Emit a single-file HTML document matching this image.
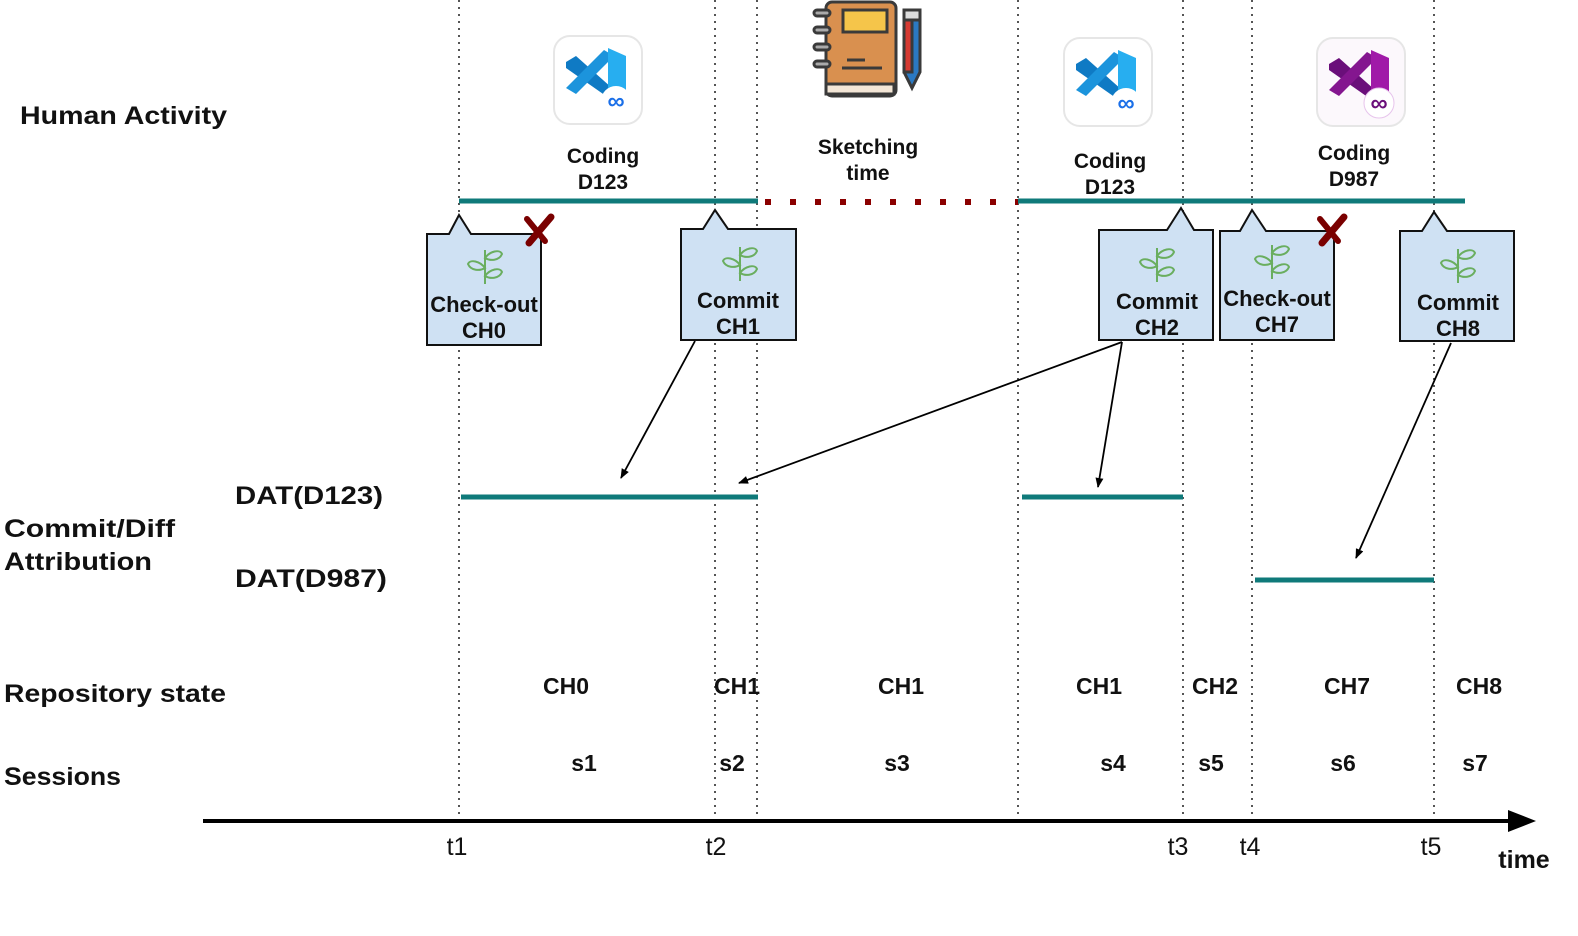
<!DOCTYPE html>
<html><head><meta charset="utf-8"><style>
html,body{margin:0;padding:0;background:#fff;overflow:hidden;width:1578px;height:936px;}
svg{display:block;font-family:"Liberation Sans",sans-serif;}
.b{font-weight:bold;fill:#111;}
</style></head><body>
<svg width="1578" height="936" viewBox="0 0 1578 936" xmlns="http://www.w3.org/2000/svg">
<defs>
<marker id="ah" markerWidth="10" markerHeight="10" refX="9" refY="5" orient="auto" markerUnits="userSpaceOnUse"><path d="M0,1 L10,5 L0,9 Z" fill="#000"/></marker>
<g id="sprout" fill="none" stroke="#6aae5f" stroke-width="2">
<path d="M0,38 L0,4"/>
<path d="M0,22 C-5,15 -15,13 -17,18 C-14,25 -5,25 0,22 Z"/>
<path d="M0,12 C5,5 15,3 17,8 C14,15 5,15 0,12 Z"/>
<path d="M0,30 C5,23 15,21 17,26 C14,33 5,33 0,30 Z"/>
</g>
<g id="xmark"><path d="M-8,14 L14,-12" stroke="#7a0000" stroke-width="7" stroke-linecap="round"/><path d="M-10,-10 L8,12" stroke="#7a0000" stroke-width="6" stroke-linecap="round"/></g>
</defs>

<g stroke="#555" stroke-width="2" stroke-dasharray="2,5">
<line x1="459" y1="0" x2="459" y2="820"/>
<line x1="715" y1="0" x2="715" y2="820"/>
<line x1="757" y1="0" x2="757" y2="820"/>
<line x1="1018" y1="0" x2="1018" y2="820"/>
<line x1="1183" y1="0" x2="1183" y2="820"/>
<line x1="1252" y1="0" x2="1252" y2="820"/>
<line x1="1434" y1="0" x2="1434" y2="820"/>
</g>

<line x1="459" y1="201" x2="758" y2="201" stroke="#0f7a7a" stroke-width="5"/>
<line x1="765" y1="202" x2="1018" y2="202" stroke="#8b0000" stroke-width="6" stroke-dasharray="6,19"/>
<line x1="1018" y1="201" x2="1465" y2="201" stroke="#0f7a7a" stroke-width="5"/>

<g>
<rect x="554" y="36" width="88" height="88" rx="16" fill="#fff" stroke="#e6e6e6" stroke-width="2"/>
<path d="M566,62 L576,56 L612,88 L606,96 L566,68 Z" fill="#0f7ac4"/>
<path d="M566,88 L604,50 L614,56 L576,94 Z" fill="#1c94dc"/>
<path d="M608,48 L626,56 L626,96 L608,102 Z" fill="#27aef0"/>
<circle cx="616" cy="101" r="15" fill="#fff"/>
<text x="616" y="109" text-anchor="middle" font-size="24" font-weight="bold" fill="#1a6fe8">∞</text>
</g>
<g>
<rect x="1064" y="38" width="88" height="88" rx="16" fill="#fff" stroke="#e6e6e6" stroke-width="2"/>
<path d="M1076,64 L1086,58 L1122,90 L1116,98 L1076,70 Z" fill="#0f7ac4"/>
<path d="M1076,90 L1114,52 L1124,58 L1086,96 Z" fill="#1c94dc"/>
<path d="M1118,50 L1136,58 L1136,98 L1118,104 Z" fill="#27aef0"/>
<circle cx="1126" cy="103" r="15" fill="#fff"/>
<text x="1126" y="111" text-anchor="middle" font-size="24" font-weight="bold" fill="#1a6fe8">∞</text>
</g>
<g>
<rect x="1317" y="38" width="88" height="88" rx="16" fill="#fcf8fc" stroke="#e6e6e6" stroke-width="2"/>
<path d="M1329,64 L1339,58 L1375,90 L1369,98 L1329,70 Z" fill="#6a0f7a"/>
<path d="M1329,90 L1367,52 L1377,58 L1339,96 Z" fill="#84168f"/>
<path d="M1371,50 L1389,58 L1389,98 L1371,104 Z" fill="#a01aa8"/>
<circle cx="1379" cy="103" r="15" fill="#fff" stroke="#e7c4ec"/>
<text x="1379" y="111" text-anchor="middle" font-size="24" font-weight="bold" fill="#6a0f7a">∞</text>
</g>
<g stroke="#3a3a3a" stroke-width="3">
<rect x="826" y="2" width="70" height="94" rx="6" fill="#d9904f"/>
<rect x="826" y="84" width="68" height="10" fill="#f3e6d6"/>
<rect x="843" y="10" width="44" height="22" fill="#f5c54a"/>
<line x1="847" y1="60" x2="865" y2="60"/><line x1="842" y1="68" x2="882" y2="68"/>
<rect x="814" y="10" width="16" height="6" rx="3" fill="#aaa"/>
<rect x="814" y="27" width="16" height="6" rx="3" fill="#aaa"/>
<rect x="814" y="44" width="16" height="6" rx="3" fill="#aaa"/>
<rect x="814" y="61" width="16" height="6" rx="3" fill="#aaa"/>
<path d="M904,12 L920,12 L920,72 L912,88 L904,72 Z" fill="#2b79c2"/>
<rect x="904" y="18" width="8" height="54" fill="#d63a32"/>
<rect x="904" y="10" width="16" height="10" fill="#ddd"/>
</g>

<text x="20" y="124" class="b" font-size="25" textLength="207" lengthAdjust="spacingAndGlyphs">Human Activity</text>
<g class="b" font-size="21" text-anchor="middle">
<text x="603" y="163">Coding</text><text x="603" y="189">D123</text>
<text x="868" y="154">Sketching</text><text x="868" y="180">time</text>
<text x="1110" y="168">Coding</text><text x="1110" y="194">D123</text>
<text x="1354" y="160">Coding</text><text x="1354" y="186">D987</text>
</g>

<g fill="#cfe1f3" stroke="#111" stroke-width="2">
<path d="M427,234 L449,234 L459,215 L471,234 L541,234 L541,345 L427,345 Z"/>
<path d="M681,229 L703,229 L715,210 L728,229 L796,229 L796,340 L681,340 Z"/>
<path d="M1099,230 L1167,230 L1181,208 L1194,230 L1213,230 L1213,340 L1099,340 Z"/>
<path d="M1220,231 L1240,231 L1252,210 L1266,231 L1334,231 L1334,340 L1220,340 Z"/>
<path d="M1400,231 L1422,231 L1434,212 L1447,231 L1514,231 L1514,341 L1400,341 Z"/>
</g>
<use href="#sprout" x="485" y="246"/>
<use href="#sprout" x="740" y="243"/>
<use href="#sprout" x="1157" y="244"/>
<use href="#sprout" x="1272" y="241"/>
<use href="#sprout" x="1458" y="245"/>
<use href="#xmark" x="537" y="229"/>
<use href="#xmark" x="1330" y="229"/>
<g class="b" font-size="22" text-anchor="middle">
<text x="484" y="312">Check-out</text><text x="484" y="338">CH0</text>
<text x="738" y="308">Commit</text><text x="738" y="334">CH1</text>
<text x="1157" y="309">Commit</text><text x="1157" y="335">CH2</text>
<text x="1277" y="306">Check-out</text><text x="1277" y="332">CH7</text>
<text x="1458" y="310">Commit</text><text x="1458" y="336">CH8</text>
</g>

<g stroke="#000" stroke-width="1.8" fill="none" marker-end="url(#ah)">
<line x1="695" y1="341" x2="621" y2="478"/>
<line x1="1122" y1="342" x2="739" y2="483"/>
<line x1="1122" y1="342" x2="1098" y2="487"/>
<line x1="1451" y1="343" x2="1356" y2="558"/>
</g>

<g stroke="#0f7a7a" stroke-width="5">
<line x1="461" y1="497" x2="758" y2="497"/>
<line x1="1022" y1="497" x2="1183" y2="497"/>
<line x1="1255" y1="580" x2="1434" y2="580"/>
</g>

<g class="b" font-size="25" lengthAdjust="spacingAndGlyphs">
<text x="235" y="504" textLength="148" lengthAdjust="spacingAndGlyphs">DAT(D123)</text>
<text x="235" y="587" textLength="152" lengthAdjust="spacingAndGlyphs">DAT(D987)</text>
<text x="4" y="537" textLength="171" lengthAdjust="spacingAndGlyphs">Commit/Diff</text>
<text x="4" y="570" textLength="148" lengthAdjust="spacingAndGlyphs">Attribution</text>
<text x="4" y="702" textLength="222" lengthAdjust="spacingAndGlyphs">Repository state</text>
<text x="4" y="785" textLength="117" lengthAdjust="spacingAndGlyphs">Sessions</text>
</g>
<g class="b" font-size="23" text-anchor="middle">
<text x="566" y="694">CH0</text><text x="737" y="694">CH1</text><text x="901" y="694">CH1</text>
<text x="1099" y="694">CH1</text><text x="1215" y="694">CH2</text><text x="1347" y="694">CH7</text><text x="1479" y="694">CH8</text>
<text x="584" y="771">s1</text><text x="732" y="771">s2</text><text x="897" y="771">s3</text>
<text x="1113" y="771">s4</text><text x="1211" y="771">s5</text><text x="1343" y="771">s6</text><text x="1475" y="771">s7</text>
</g>

<line x1="203" y1="821" x2="1512" y2="821" stroke="#000" stroke-width="4"/>
<path d="M1508,810 L1536,821 L1508,832 Z" fill="#000"/>
<g font-size="25" fill="#111" text-anchor="middle">
<text x="457" y="855">t1</text><text x="716" y="855">t2</text><text x="1178" y="855">t3</text>
<text x="1250" y="855">t4</text><text x="1431" y="855">t5</text>
</g>
<text x="1524" y="868" class="b" font-size="25" text-anchor="middle">time</text>
</svg>
</body></html>
